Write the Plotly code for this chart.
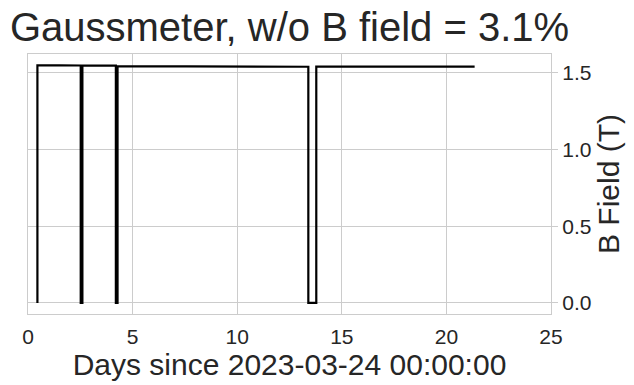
import plotly.graph_objects as go

# Days since 2023-03-24 and B field (T)
days = [0.45, 0.45, 1.5, 2.52, 2.52, 2.60, 2.60, 3.4, 4.20, 4.20, 4.28, 4.28,
        6.0, 8.0, 10.0, 12.0, 13.40, 13.40, 13.78, 13.78, 15.0, 17.0, 19.0, 21.35]
field = [0.0, 1.548, 1.548, 1.547, 0.0, 0.0, 1.546, 1.546, 1.546, 0.0, 0.0, 1.543,
         1.542, 1.541, 1.540, 1.540, 1.539, 0.0, 0.0, 1.540, 1.540, 1.540, 1.541, 1.540]

x_ticks = [0, 5, 10, 15, 20, 25]
y_ticks = [0.0, 0.5, 1.0, 1.5]
y_tick_text = ["0.0", "0.5", "1.0", "1.5"]

fig = go.Figure()
fig.add_trace(go.Scatter(x=days, y=field, mode="lines",
                         line=dict(color="black", width=2.2),
                         showlegend=False))

grid = "#cccccc"
fig.update_layout(
    width=634, height=385,
    margin=dict(l=28, r=83, t=54, b=71),
    paper_bgcolor="white", plot_bgcolor="white",
    font=dict(family="Liberation Sans, Arial, sans-serif", color="#262626"),
    title=dict(text="Gaussmeter, w/o B field = 3.1%", x=0.5, xref="paper",
               xanchor="center", y=0.965, yref="container", yanchor="top",
               font=dict(size=40, color="#262626")),
    xaxis=dict(range=[0, 25], tickvals=x_ticks, showgrid=True, gridcolor=grid,
               gridwidth=1.2, zeroline=False, showline=True, linecolor=grid,
               linewidth=1.2, mirror=True, ticks="outside", ticklen=4,
               tickcolor="rgba(0,0,0,0)",
               tickfont=dict(size=21),
               title=dict(text="Days since 2023-03-24 00:00:00",
                          font=dict(size=30), standoff=5)),
    yaxis=dict(range=[-0.072, 1.622], side="right", tickvals=y_ticks,
               ticktext=y_tick_text, showgrid=True, gridcolor=grid,
               gridwidth=1.2, zeroline=False, showline=True, linecolor=grid,
               linewidth=1.2, mirror=True, ticks="outside", ticklen=6,
               tickcolor=grid, tickwidth=1.2, tickfont=dict(size=21),
               title=dict(text="B Field (T)", font=dict(size=30), standoff=6)),
)

fig.write_html("out.html")
